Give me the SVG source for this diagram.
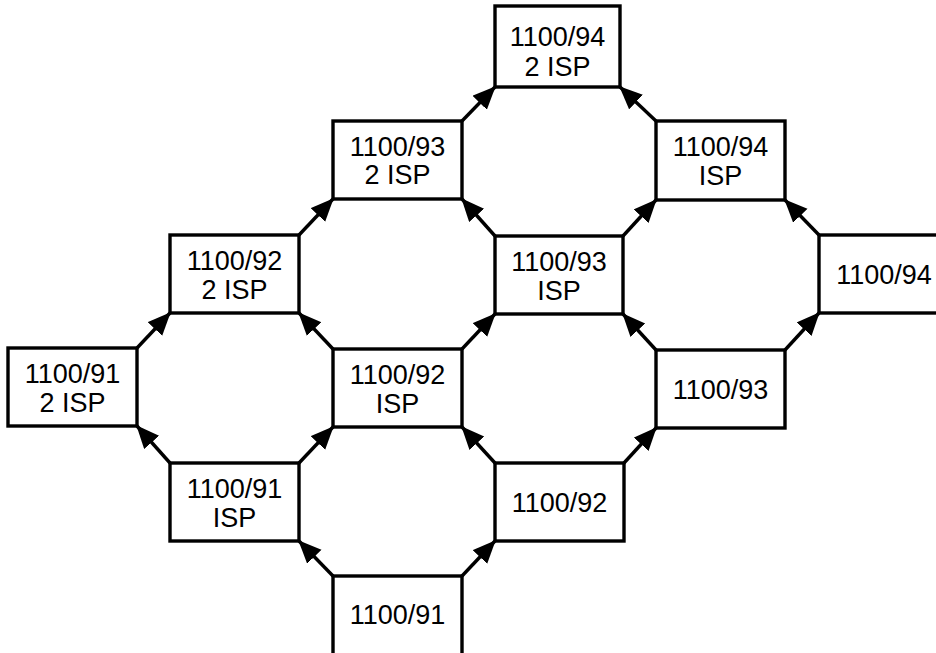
<svg xmlns="http://www.w3.org/2000/svg" width="936" height="653" viewBox="0 0 936 653">
  <defs>
    <marker id="arrow" markerUnits="userSpaceOnUse" markerWidth="26" markerHeight="22" refX="22" refY="10" orient="auto">
      <path d="M0,0 L23,10 L0,20 z" fill="#000"/>
    </marker>
    <style>
      .box { fill: #fff; stroke: #000; stroke-width: 3.4; }
      .lbl { font-family: "Liberation Sans", Arial, Helvetica, sans-serif; font-size: 27px; fill: #000; text-anchor: middle; }
      .edge { stroke: #000; stroke-width: 3.4; fill: none; marker-end: url(#arrow); }
    </style>
  </defs>
  <rect width="936" height="653" fill="#fff"/>

  <!-- connectors: each runs from a box corner to the corner of the box above it -->
  <g id="connectors">
    <!-- from 1100/91 -->
    <line class="edge" x1="333" y1="576" x2="299" y2="541"/>
    <line class="edge" x1="462" y1="576" x2="495" y2="541"/>
    <!-- from 1100/91 ISP -->
    <line class="edge" x1="170" y1="463" x2="137" y2="426"/>
    <line class="edge" x1="299" y1="463" x2="333" y2="427"/>
    <!-- from 1100/92 -->
    <line class="edge" x1="495" y1="463" x2="462" y2="427"/>
    <line class="edge" x1="624" y1="463" x2="656" y2="428"/>
    <!-- from 1100/91 2 ISP -->
    <line class="edge" x1="137" y1="348" x2="170" y2="313"/>
    <!-- from 1100/92 ISP -->
    <line class="edge" x1="333" y1="349" x2="299" y2="313"/>
    <line class="edge" x1="462" y1="349" x2="495" y2="314"/>
    <!-- from 1100/93 -->
    <line class="edge" x1="656" y1="350" x2="623" y2="314"/>
    <line class="edge" x1="785" y1="350" x2="819" y2="313"/>
    <!-- from 1100/92 2 ISP -->
    <line class="edge" x1="299" y1="235" x2="333" y2="199"/>
    <!-- from 1100/93 ISP -->
    <line class="edge" x1="495" y1="236" x2="462" y2="199"/>
    <line class="edge" x1="623" y1="236" x2="656" y2="200"/>
    <!-- from 1100/94 -->
    <line class="edge" x1="819" y1="235" x2="785" y2="200"/>
    <!-- from 1100/93 2 ISP -->
    <line class="edge" x1="462" y1="121" x2="495" y2="87"/>
    <!-- from 1100/94 ISP -->
    <line class="edge" x1="656" y1="121" x2="620" y2="87"/>
  </g>

  <g id="n-1100-91">
    <rect class="box" x="333" y="576" width="129" height="82"/>
    <text class="lbl" x="397.5" y="624">1100/91</text>
  </g>
  <g id="n-1100-91-isp">
    <rect class="box" x="170" y="463" width="129" height="78"/>
    <text class="lbl" x="234.5" y="498">1100/91</text>
    <text class="lbl" x="234.5" y="527">ISP</text>
  </g>
  <g id="n-1100-92">
    <rect class="box" x="495" y="463" width="129" height="78"/>
    <text class="lbl" x="559.5" y="512">1100/92</text>
  </g>
  <g id="n-1100-91-2isp">
    <rect class="box" x="8" y="348" width="129" height="78"/>
    <text class="lbl" x="72.5" y="383">1100/91</text>
    <text class="lbl" x="72.5" y="412">2 ISP</text>
  </g>
  <g id="n-1100-92-isp">
    <rect class="box" x="333" y="349" width="129" height="78"/>
    <text class="lbl" x="397.5" y="384">1100/92</text>
    <text class="lbl" x="397.5" y="413">ISP</text>
  </g>
  <g id="n-1100-93">
    <rect class="box" x="656" y="350" width="129" height="78"/>
    <text class="lbl" x="720.5" y="399">1100/93</text>
  </g>
  <g id="n-1100-92-2isp">
    <rect class="box" x="170" y="235" width="129" height="78"/>
    <text class="lbl" x="234.5" y="270">1100/92</text>
    <text class="lbl" x="234.5" y="299">2 ISP</text>
  </g>
  <g id="n-1100-93-isp">
    <rect class="box" x="495" y="236" width="128" height="78"/>
    <text class="lbl" x="559" y="271">1100/93</text>
    <text class="lbl" x="559" y="300">ISP</text>
  </g>
  <g id="n-1100-94">
    <rect class="box" x="819" y="235" width="131" height="78"/>
    <text class="lbl" x="884" y="284">1100/94</text>
  </g>
  <g id="n-1100-93-2isp">
    <rect class="box" x="333" y="121" width="129" height="78"/>
    <text class="lbl" x="397.5" y="156">1100/93</text>
    <text class="lbl" x="397.5" y="184">2 ISP</text>
  </g>
  <g id="n-1100-94-isp">
    <rect class="box" x="656" y="121" width="129" height="79"/>
    <text class="lbl" x="720.5" y="156">1100/94</text>
    <text class="lbl" x="720.5" y="185">ISP</text>
  </g>
  <g id="n-1100-94-2isp">
    <rect class="box" x="495" y="6" width="125" height="81"/>
    <text class="lbl" x="557.5" y="46">1100/94</text>
    <text class="lbl" x="557.5" y="76">2 ISP</text>
  </g>
</svg>
